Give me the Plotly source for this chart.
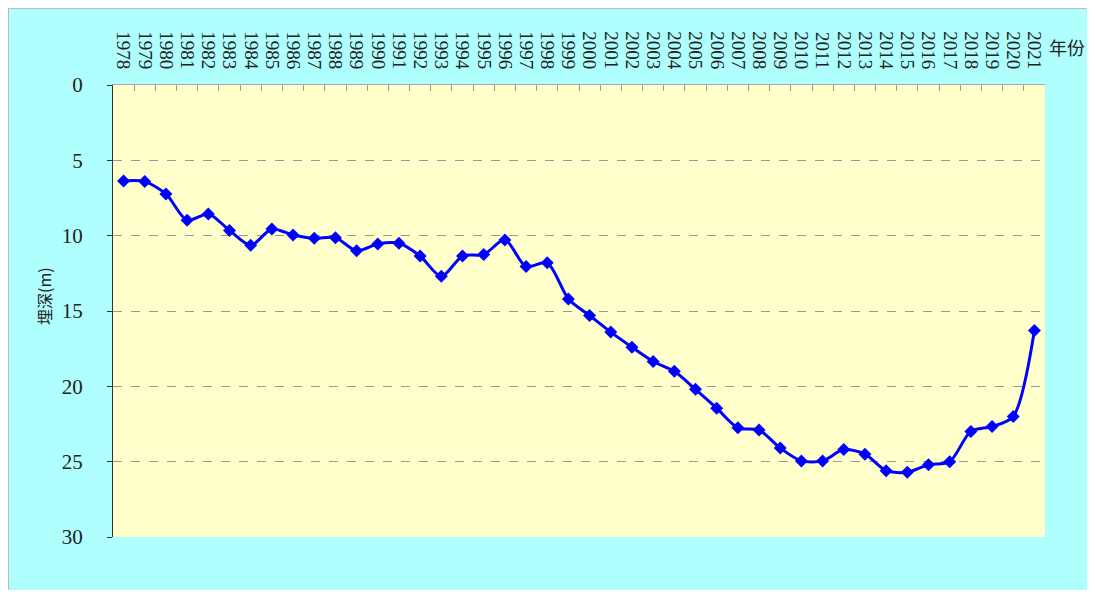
import plotly.graph_objects as go

# 年份 / 地下水埋深(m)
years = [str(y) for y in range(1978, 2022)]
depth = [
    6.37, 6.41, 7.23, 8.98, 8.56, 9.65, 10.64, 9.56, 9.95, 10.17,
    10.13, 11.0, 10.55, 10.5, 11.35, 12.7, 11.35, 11.25, 10.28, 12.05,
    11.8, 14.2, 15.3, 16.4, 17.4, 18.35, 19.0, 20.2, 21.45, 22.75,
    22.9, 24.1, 24.95, 24.95, 24.2, 24.5, 25.6, 25.7, 25.2, 25.0,
    22.99, 22.67, 22.0, 16.3,
]
y_ticks = [0, 5, 10, 15, 20, 25, 30]

# page body has an 8px margin, the figure starts at (8, 8)
OX, OY = 8, 8
W, H = 1079, 582
L, R, T, B = 113 - OX, OX + W - 1045, 85 - OY, H - (537 - OY)

def px_x(px):
    return (px - OX - L) / (W - L - R)

def px_y(py):
    return (H - B - (py - OY)) / (H - T - B)

fig = go.Figure(go.Scatter(
    x=years, y=depth,
    mode="lines+markers",
    line=dict(color="#0000FF", width=3, shape="spline", smoothing=0.8),
    marker=dict(symbol="diamond", size=10, color="#0000FF"),
    showlegend=False,
))

serif = "Liberation Serif, Times New Roman, serif"

fig.update_xaxes(
    type="category", side="top", range=[-0.5, len(years) - 0.5],
    tickmode="array", tickvals=years, ticktext=years,
    tickangle=90, tickfont=dict(family=serif, size=19, color="#222"),
    ticks="inside", tickson="boundaries", ticklen=6, tickcolor="#999",
    showline=True, linecolor="#aaa", linewidth=1,
    showgrid=False, zeroline=False, ticklabelstandoff=8,
)
fig.update_yaxes(
    range=[30, 0], tickvals=y_ticks,
    tickfont=dict(family=serif, size=21, color="#222"),
    ticks="outside", ticklen=5, tickcolor="#333",
    showline=True, linecolor="#333", linewidth=1,
    showgrid=True, gridcolor="#999", griddash="dash", gridwidth=1,
    zeroline=False, ticklabelstandoff=20,
)

fig.update_layout(
    width=W, height=H,
    margin=dict(l=L, r=R, t=T, b=B),
    paper_bgcolor="#AFFFFF",
    plot_bgcolor="#FFFFCC",
    shapes=[
        # thin chart border along the top and left edges
        dict(type="line", xref="paper", yref="paper",
             x0=px_x(8), x1=px_x(8 + W), y0=px_y(8.5), y1=px_y(8.5),
             line=dict(color="#bbb", width=1)),
        dict(type="line", xref="paper", yref="paper",
             x0=px_x(8.5), x1=px_x(8.5), y0=px_y(8 + H), y1=px_y(8.5),
             line=dict(color="#bbb", width=1)),
    ],
    annotations=[
        dict(text="年份", xref="paper", yref="paper", x=px_x(1067), y=px_y(47),
             xanchor="center", yanchor="middle", showarrow=False,
             font=dict(family="Noto Sans CJK SC", size=18, color="#222")),
        dict(text="埋深(m)", xref="paper", yref="paper", x=px_x(44), y=px_y(296),
             xanchor="center", yanchor="middle", showarrow=False, textangle=-90,
             font=dict(family="Noto Sans CJK SC", size=16, color="#222")),
    ],
)

fig.write_html("out.html")
